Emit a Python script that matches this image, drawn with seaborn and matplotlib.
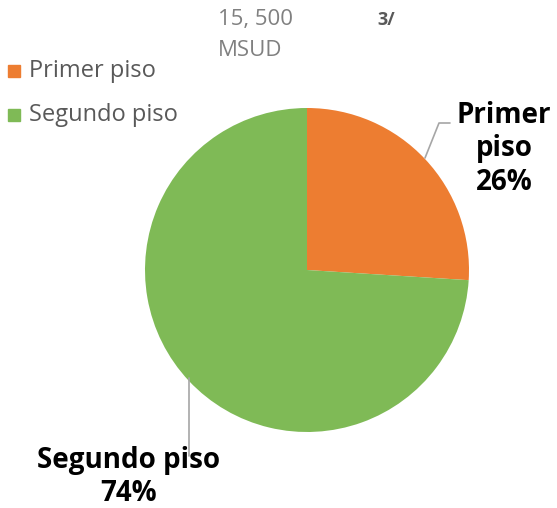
import matplotlib.pyplot as plt
import seaborn as sns

labels = ["Primer piso", "Segundo piso"]
shares = [26, 74]
colors = ["#ED7D31", "#7FBA56"]

sns.set_theme(style="white")
plt.rcParams["font.family"] = ["Open Sans", "DejaVu Sans"]

fig = plt.figure(figsize=(5.57, 5.08), dpi=100)
W, H = 557, 508
cx, cy, r = 307, 270, 162
ax = fig.add_axes([(cx - r) / W, (H - cy - r) / H, 2 * r / W, 2 * r / H])

wedges, _ = ax.pie(shares, colors=colors, startangle=90, counterclock=False,
                   radius=1, wedgeprops=dict(linewidth=0))
ax.set_xlim(-1, 1)
ax.set_ylim(-1, 1)
ax.set_aspect("auto")
ax.axis("off")

def px(x, y):
    return x / W, 1 - y / H

# leader lines
fig.add_artist(plt.Line2D([425 / W, 439 / W, 450 / W],
                          [1 - 158 / H, 1 - 123 / H, 1 - 123 / H],
                          color="#A6A6A6", lw=1.2))
fig.add_artist(plt.Line2D([189 / W, 189 / W], [1 - 378 / H, 1 - 456 / H],
                          color="#A6A6A6", lw=1.2))

bold = dict(fontsize=20, fontweight="bold", color="black",
            ha="center", va="center", linespacing=1.2)
fig.text(*px(504, 149), f"{labels[0].replace(' ', chr(10))}\n{shares[0]}%", **bold)
fig.text(*px(129, 477), f"{labels[1]}\n{shares[1]}%", **bold)

# title pieces
fig.text(*px(218, 20), "15, 500", fontsize=16, color="#808080", ha="left", va="center")
fig.text(*px(218, 50), "MSUD", fontsize=16, color="#808080", ha="left", va="center")
fig.text(*px(377, 20), "3/", fontsize=13, fontweight="bold", color="#595959",
         ha="left", va="center")

# legend
for i, (lab, col) in enumerate(zip(labels, colors)):
    y = 71 + i * 44
    fig.patches.append(plt.Rectangle((8 / W, 1 - (y + 6) / H), 12 / W, 12 / H,
                                     transform=fig.transFigure, color=col))
    fig.text(*px(29, y), lab, fontsize=17, color="#595959", ha="left", va="center")

fig.savefig("out.png", dpi=100)
